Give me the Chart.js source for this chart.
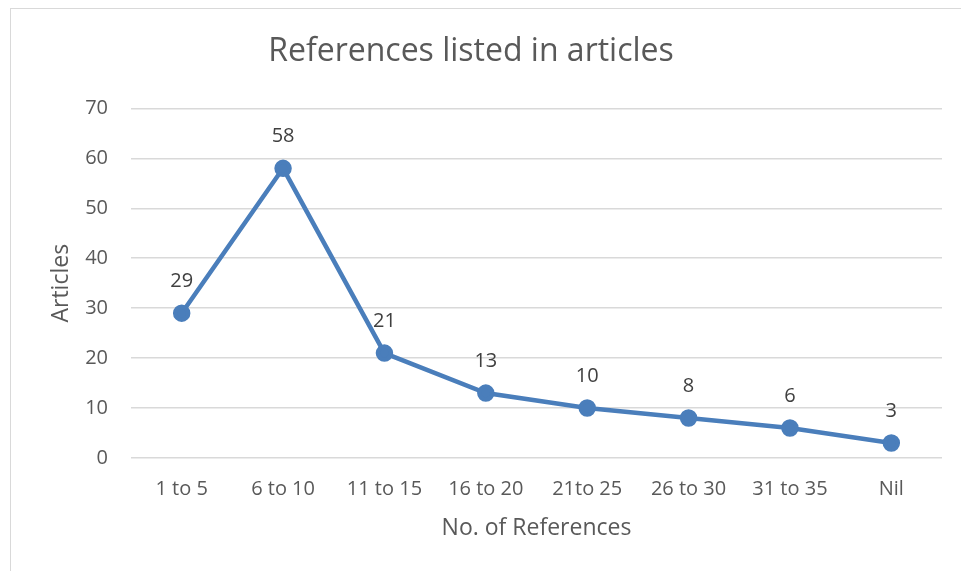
<!DOCTYPE html>
<html>
<head>
<meta charset="utf-8">
<script src="https://cdn.jsdelivr.net/npm/chart.js@4"></script>
<style>
html,body{margin:0;padding:0;background:#fff;overflow:hidden;}
#frame{position:absolute;left:10px;top:8px;width:1000px;height:620px;border:1.5px solid #d9d9d9;box-sizing:border-box;}
#wrap{position:absolute;left:0;top:0;width:961px;height:571px;}
</style>
</head>
<body>
<div id="frame"></div>
<div id="wrap"><canvas id="c" width="961" height="571"></canvas></div>
<script>
const categories = ["1 to 5","6 to 10","11 to 15","16 to 20","21to 25","26 to 30","31 to 35","Nil"];
const articles = [29,58,21,13,10,8,6,3];
const yTicks = [0,10,20,30,40,50,60,70];

const FONT = "'Open Sans', 'Noto Sans', sans-serif";
const lineColor = "#4a7ebb";

const labelPlugin = {
  id: 'pointLabels',
  afterDatasetsDraw(chart) {
    const ctx = chart.ctx;
    const meta = chart.getDatasetMeta(0);
    ctx.save();
    ctx.font = "20px " + FONT;
    ctx.fillStyle = "#404040";
    ctx.textAlign = "center";
    ctx.textBaseline = "middle";
    meta.data.forEach((pt, i) => {
      ctx.fillText(String(articles[i]), pt.x, pt.y - 32);
    });
    ctx.restore();
  }
};

new Chart(document.getElementById('c'), {
  type: 'line',
  data: {
    labels: categories,
    datasets: [{
      data: articles,
      borderColor: lineColor,
      backgroundColor: lineColor,
      borderWidth: 4.5,
      pointRadius: 6.5,
      pointHoverRadius: 6.5,
      pointBackgroundColor: lineColor,
      pointBorderColor: lineColor,
      tension: 0,
      fill: false
    }]
  },
  options: {
    responsive: false,
    animation: false,
    events: [],
    layout: { padding: { left: 0, right: 19, top: 0, bottom: 0 } },
    plugins: {
      legend: { display: false },
      tooltip: { enabled: false },
      title: {
        display: true,
        text: "References listed in articles",
        color: "#595959",
        font: { family: FONT, size: 32, weight: 'normal' },
        padding: { top: 33, bottom: 37 }
      }
    },
    scales: {
      x: {
        offset: true,
        grid: { display: false, drawTicks: false },
        border: { display: false },
        ticks: { color: "#595959", font: { family: FONT, size: 20 }, padding: 19, maxRotation: 0, autoSkip: false },
        title: { display: true, text: "No. of References", color: "#595959", font: { family: FONT, size: 23 }, padding: { top: 0, bottom: 29 } },
        afterFit(s) { s.height = 113; }
      },
      y: {
        min: 0, max: 70,
        afterBuildTicks(s) { s.ticks = yTicks.map(v => ({ value: v })); },
        grid: { color: "#d9d9d9", lineWidth: 1.5, drawTicks: false },
        border: { display: false },
        ticks: { color: "#595959", font: { family: FONT, size: 20 }, padding: 23 },
        title: { display: true, text: "Articles", color: "#595959", font: { family: FONT, size: 23 }, padding: { top: 48, bottom: 0 } },
        afterFit(s) { s.width = 131; }
      }
    }
  },
  plugins: [labelPlugin]
});
</script>
</body>
</html>
